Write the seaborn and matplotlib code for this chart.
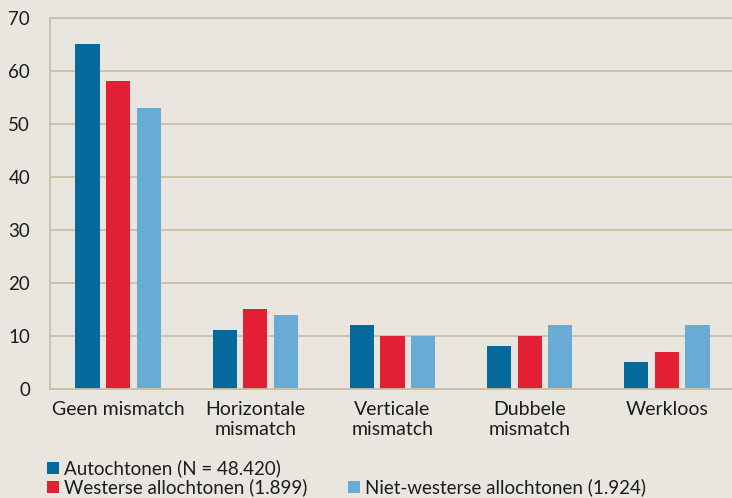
import matplotlib
matplotlib.use("Agg")
import matplotlib.pyplot as plt
import seaborn as sns
import pandas as pd

categories = ["Geen mismatch", "Horizontale\nmismatch", "Verticale\nmismatch", "Dubbele\nmismatch", "Werkloos"]
series = ["Autochtonen (N = 48.420)", "Westerse allochtonen (1.899)", "Niet-westerse allochtonen (1.924)"]
autochtonen = [65, 11, 12, 8, 5]
westerse = [58, 15, 10, 10, 7]
niet_westerse = [53, 14, 10, 12, 12]
yticks = [0, 10, 20, 30, 40, 50, 60, 70]

colors = ["#056a9b", "#e32033", "#68acd6"]
bg = "#e8e6de"
tan = "#cbbfa5"
txt = "#1c1c1c"

rows = []
for s, vals in zip(series, [autochtonen, westerse, niet_westerse]):
    for c, v in zip(categories, vals):
        rows.append({"cat": c, "series": s, "value": v})
df = pd.DataFrame(rows)

sns.set_style("white")
plt.rcParams["font.family"] = ["Lato", "DejaVu Sans"]

fig = plt.figure(figsize=(7.32, 4.98), dpi=100)
fig.patch.set_facecolor(bg)
ax = fig.add_axes([49.5 / 732, 109.3 / 498, 686 / 732, 371 / 498])
ax.set_facecolor(bg)

sns.barplot(data=df, x="cat", y="value", hue="series", order=categories,
            hue_order=series, palette=colors, width=0.67, gap=0.21,
            linewidth=0, saturation=1, ax=ax, legend=True)

ax.set_xlim(-0.5, 4.5)
ax.set_ylim(0, 70)
ax.set_yticks(yticks)
ax.set_xlabel("")
ax.set_ylabel("")
ax.set_axisbelow(True)
ax.yaxis.grid(True, color=tan, linewidth=1.3)
ax.xaxis.grid(False)
for l in ax.get_ygridlines():
    l.set_clip_on(False)

for side in ["top", "right"]:
    ax.spines[side].set_visible(False)
for side in ["left", "bottom"]:
    ax.spines[side].set_color(tan)
    ax.spines[side].set_linewidth(1.3)

ax.tick_params(axis="y", length=5, width=1.3, color=tan, pad=9, labelsize=13.5, labelcolor=txt)
ax.tick_params(axis="x", which="major", length=0, pad=9, labelsize=14, labelcolor=txt)
ax.set_xticks([-0.5, 0.5, 1.5, 2.5, 3.5, 4.5], minor=True)
ax.tick_params(axis="x", which="minor", length=5, width=1.3, color=tan, direction="out")

handles, labels = ax.get_legend_handles_labels()
ax.get_legend().remove()

common = dict(frameon=False, fontsize=13.5, handlelength=0.62, handleheight=0.62,
              handletextpad=0.3, labelspacing=0.06, borderpad=0, borderaxespad=0,
              labelcolor=txt)
fig.legend(handles[:2], labels[:2], loc="center left",
           bbox_to_anchor=(47 / 732, 1 - 478 / 498), **common)
fig.legend(handles[2:], labels[2:], loc="center left",
           bbox_to_anchor=(348 / 732, 1 - 487.5 / 498), **common)

fig.savefig("out.png", dpi=100, facecolor=bg)
